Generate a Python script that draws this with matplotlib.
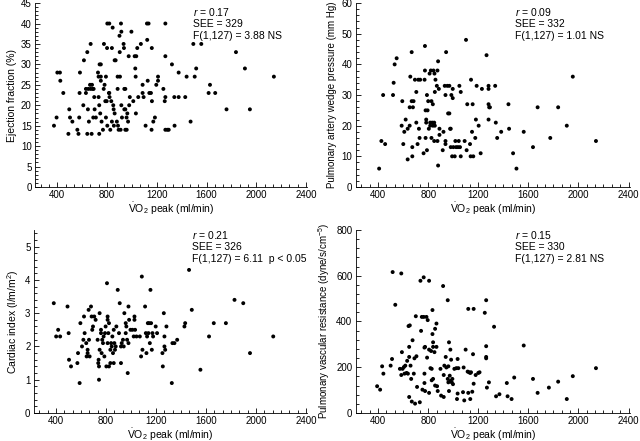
import matplotlib
matplotlib.use("Agg")
import matplotlib.pyplot as plt
from matplotlib.ticker import MultipleLocator

plt.rcParams.update({
    'font.family': 'Liberation Sans',
    'mathtext.fontset': 'custom',
    'mathtext.rm': 'Liberation Sans',
    'mathtext.it': 'Liberation Sans:italic',
    'mathtext.bf': 'Liberation Sans:bold',
})

# --- Data ---
# Ejection fraction vs VO2 peak
ef_vo2 = [373, 394, 400, 421, 424, 448, 489, 496, 502, 521,
          561, 570, 576, 579, 582, 609, 614, 630, 630, 641,
          641, 649, 646, 654, 663, 668, 676, 668, 679, 684,
          689, 692, 697, 700, 710, 732, 737, 737, 740, 745,
          750, 750, 750, 727, 732, 756, 767, 773, 775, 780,
          786, 791, 791, 797, 800, 802, 802, 815, 818, 818,
          820, 826, 834, 839, 839, 845, 850, 853, 855, 861,
          861, 869, 879, 885, 885, 888, 893, 900, 902, 904,
          909, 912, 915, 915, 920, 933, 936, 939, 939, 947,
          947, 947, 957, 958, 963, 969, 974, 978, 983, 996,
          1011, 1022, 1027, 1030, 1035, 1032, 1043, 1051, 1072, 1086,
          1086, 1094, 1110, 1121, 1123, 1127, 1134, 1140, 1153, 1160,
          1158, 1161, 1172, 1185, 1196, 1210, 1210, 1253, 1264, 1269,
          1269, 1269, 1269, 1285, 1296, 1322, 1343, 1341, 1376, 1376,
          1429, 1440, 1472, 1494, 1505, 1517, 1558, 1617, 1628, 1670,
          1761, 1837, 1909, 1949, 2142]
ef = [15, 17, 28, 28, 26, 23, 13, 19, 17, 16,
      14, 13, 17, 23, 28, 20, 31, 23, 24, 33,
      13, 24, 19, 16, 25, 24, 13, 35, 25, 24,
      17, 24, 22, 19, 17, 22, 13, 20, 30, 18,
      30, 27, 26, 28, 27, 16, 14, 24, 35, 25,
      21, 27, 17, 21, 34, 40, 15, 23, 40, 23,
      22, 14, 21, 16, 34, 39, 20, 19, 15, 18,
      31, 31, 16, 24, 27, 15, 14, 37, 33, 27,
      14, 40, 38, 20, 17, 35, 34, 19, 24, 14,
      19, 24, 17, 14, 18, 16, 32, 20, 22, 38,
      21, 32, 29, 27, 32, 18, 34, 22, 35, 25,
      23, 22, 15, 40, 36, 26, 40, 23, 23, 34,
      14, 21, 16, 17, 25, 27, 26, 24, 21, 22,
      32, 40, 14, 14, 14, 30, 15, 22, 22, 28,
      22, 27, 16, 35, 27, 29, 35, 23, 25, 23,
      19, 33, 29, 19, 27]

# Pulmonary artery wedge pressure vs VO2 peak
pawp_vo2 = [408, 426, 440, 456, 519, 524, 532, 548, 588, 593,
            601, 609, 620, 636, 636, 652, 652, 657, 668, 668,
            673, 673, 678, 683, 694, 705, 705, 715, 721, 726,
            731, 736, 763, 771, 774, 774, 779, 779, 784, 784,
            790, 790, 795, 800, 805, 811, 816, 816, 821, 826,
            826, 832, 837, 837, 842, 848, 850, 853, 848, 853,
            858, 869, 874, 874, 879, 879, 885, 890, 890, 916,
            922, 932, 938, 938, 938, 943, 953, 959, 969, 969,
            975, 980, 980, 985, 991, 996, 996, 1001, 1012, 1017,
            1023, 1038, 1044, 1049, 1054, 1060, 1060, 1091, 1102, 1107,
            1112, 1134, 1139, 1142, 1150, 1155, 1160, 1176, 1181, 1187,
            1203, 1219, 1229, 1266, 1282, 1282, 1282, 1282, 1287, 1293,
            1335, 1340, 1351, 1383, 1441, 1446, 1478, 1505, 1563, 1637,
            1674, 1775, 1838, 1907, 1955, 2140]
pawp = [6, 15, 30, 14, 30, 34, 40, 42, 20, 28,
        14, 18, 22, 19, 9, 20, 26, 36, 44, 28,
        10, 13, 26, 28, 35, 21, 31, 14, 35, 19,
        16, 35, 11, 35, 38, 46, 25, 16, 22, 21,
        12, 30, 25, 28, 19, 37, 21, 20, 38, 28,
        16, 21, 20, 27, 38, 21, 37, 20, 15, 31,
        35, 33, 38, 15, 41, 7, 32, 19, 17, 12,
        18, 33, 30, 15, 14, 44, 33, 24, 24, 33,
        19, 13, 19, 30, 10, 29, 32, 13, 10, 15,
        13, 13, 15, 33, 13, 10, 31, 15, 48, 12,
        27, 14, 10, 35, 18, 27, 10, 16, 22, 33,
        20, 11, 32, 43, 22, 27, 33, 32, 26, 26,
        33, 21, 16, 18, 27, 19, 11, 6, 18, 13,
        26, 16, 26, 20, 36, 15]

# Cardiac index vs VO2 peak
ci_vo2 = [381, 400, 416, 432, 491, 500, 503, 519, 570, 575,
          588, 594, 607, 618, 623, 628, 641, 644, 652, 652,
          660, 663, 668, 679, 684, 689, 695, 705, 716, 732,
          737, 740, 743, 748, 743, 748, 759, 759, 764, 769,
          775, 780, 786, 791, 796, 802, 807, 812, 812, 812,
          818, 823, 823, 834, 834, 840, 845, 850, 855, 861,
          861, 866, 871, 877, 882, 893, 903, 909, 919, 919,
          925, 935, 941, 946, 957, 957, 962, 968, 973, 979,
          979, 984, 995, 1011, 1021, 1027, 1027, 1032, 1043, 1070,
          1080, 1086, 1091, 1112, 1118, 1123, 1128, 1134, 1139, 1144,
          1150, 1155, 1160, 1166, 1171, 1176, 1197, 1208, 1251, 1254,
          1262, 1267, 1267, 1273, 1283, 1326, 1331, 1347, 1369, 1427,
          1433, 1464, 1486, 1555, 1624, 1662, 1759, 1828, 1898, 1952,
          2138]
ci = [3.3, 2.3, 2.5, 2.3, 3.2, 2.4, 1.6, 1.4, 1.5, 1.8,
      0.9, 2.7, 2.0, 2.2, 2.9, 2.4, 2.1, 1.7, 1.9, 1.8,
      3.1, 2.2, 1.7, 3.2, 2.9, 2.5, 2.6, 2.9, 2.8, 2.2,
      1.5, 1.6, 1.4, 3.0, 1.0, 1.9, 2.4, 2.5, 1.8, 2.2,
      2.1, 2.3, 1.7, 2.4, 2.6, 1.4, 3.9, 2.8, 2.9, 2.1,
      2.4, 2.7, 1.4, 1.5, 1.9, 2.1, 2.0, 2.3, 1.8, 1.5,
      2.5, 2.1, 1.9, 2.0, 2.6, 3.7, 2.4, 3.3, 2.0, 1.5,
      2.1, 2.2, 2.0, 3.0, 2.7, 2.4, 2.6, 2.2, 1.2, 2.1,
      3.2, 2.8, 2.5, 2.5, 2.3, 2.9, 2.8, 2.5, 2.3, 2.3,
      1.7, 4.1, 1.9, 3.2, 2.4, 1.8, 2.3, 2.7, 2.4, 2.7,
      2.1, 3.7, 2.7, 1.9, 2.4, 2.3, 2.6, 2.4, 1.8, 1.4,
      3.0, 2.3, 2.0, 1.9, 2.6, 0.9, 2.1, 2.1, 2.2, 2.6,
      2.7, 4.3, 3.1, 1.3, 2.3, 2.7, 2.7, 3.4, 3.3, 1.8,
      2.3]

# Pulmonary vascular resistance vs VO2 peak
pvr_vo2 = [392, 416, 432, 442, 500, 511, 516, 537, 574, 585,
           585, 590, 595, 606, 611, 617, 627, 632, 638, 643,
           648, 648, 648, 653, 659, 664, 669, 675, 685, 690,
           695, 701, 706, 711, 733, 738, 743, 749, 754, 764,
           764, 770, 770, 770, 775, 775, 786, 791, 796, 807,
           807, 807, 818, 823, 828, 828, 834, 834, 839, 839,
           839, 850, 855, 855, 866, 866, 871, 876, 898, 903,
           919, 924, 924, 929, 940, 945, 956, 956, 961, 961,
           966, 966, 972, 977, 977, 983, 988, 993, 998, 1009,
           1025, 1030, 1035, 1035, 1041, 1078, 1083, 1088, 1099, 1115,
           1120, 1120, 1126, 1136, 1136, 1142, 1152, 1158, 1163, 1163,
           1179, 1200, 1210, 1252, 1263, 1263, 1263, 1263, 1269, 1285,
           1326, 1342, 1369, 1428, 1434, 1466, 1487, 1563, 1637, 1674,
           1764, 1838, 1907, 1955, 2140]
pvr = [117, 102, 204, 172, 207, 236, 616, 473, 193, 610,
       166, 266, 193, 201, 172, 207, 175, 228, 172, 380,
       245, 70, 289, 383, 207, 149, 50, 318, 172, 239,
       41, 423, 248, 114, 47, 578, 359, 420, 102, 593,
       420, 286, 131, 172, 96, 289, 420, 242, 406, 578,
       277, 88, 196, 271, 143, 193, 450, 345, 289, 309,
       149, 266, 368, 120, 391, 289, 117, 96, 193, 76,
       555, 70, 166, 207, 245, 199, 493, 149, 134, 204,
       309, 96, 163, 277, 140, 233, 134, 149, 126, 193,
       196, 61, 85, 236, 196, 91, 199, 55, 277, 181,
       455, 88, 178, 175, 61, 178, 93, 257, 455, 128,
       166, 175, 178, 438, 493, 292, 239, 245, 111, 134,
       377, 73, 82, 131, 73, 61, 155, 295, 149, 88,
       111, 137, 61, 161, 196]

stats_ef = ['$r$ = 0.17', 'SEE = 329', 'F(1,127) = 3.88 NS']
stats_pawp = ['$r$ = 0.09', 'SEE = 332', 'F(1,127) = 1.01 NS']
stats_ci = ['$r$ = 0.21', 'SEE = 326', 'F(1,127) = 6.11  p < 0.05']
stats_pvr = ['$r$ = 0.15', 'SEE = 330', 'F(1,127) = 2.81 NS']

x_label = r'$\dot{\mathrm{V}}\mathrm{O}_2$ peak (ml/min)'

# --- Plotting ---
fig = plt.figure(figsize=(6.4, 4.41), dpi=100)


def scatter_panel(rect, xs, ys, ylabel, ylabel_size, ylim, ymajor, yminor, stats, text_y):
    ax = fig.add_axes(rect)
    ax.scatter(xs, ys, s=8, color='black', edgecolors='none', zorder=3)
    ax.set_xlim(222, 2410)
    ax.set_ylim(*ylim)
    ax.xaxis.set_major_locator(MultipleLocator(400))
    ax.xaxis.set_minor_locator(MultipleLocator(400 / 6))
    ax.yaxis.set_major_locator(MultipleLocator(ymajor))
    ax.yaxis.set_minor_locator(MultipleLocator(yminor))
    ax.spines['top'].set_visible(False)
    ax.spines['right'].set_visible(False)
    for sp in ('left', 'bottom'):
        ax.spines[sp].set_linewidth(0.6)
    ax.tick_params(which='both', direction='in', width=0.6, labelsize=7, pad=2.5)
    ax.tick_params(which='major', length=3.5)
    ax.tick_params(which='minor', length=2)
    ax.set_xlabel(x_label, fontsize=7.5, labelpad=0)
    ax.set_ylabel(ylabel, fontsize=ylabel_size, labelpad=3)
    for txt, ty in zip(stats, text_y):
        ax.text(0.58, ty, txt, transform=ax.transAxes, fontsize=7.5,
                ha='left', va='center')
    return ax


scatter_panel([0.055, 0.576, 0.425, 0.417], ef_vo2, ef,
              'Ejection fraction (%)', 7.5, (0, 45), 5, 1,
              stats_ef, [0.949, 0.886, 0.821])
scatter_panel([0.556, 0.576, 0.428, 0.417], pawp_vo2, pawp,
              'Pulmonary artery wedge pressure (mm Hg)', 7, (0, 60), 10, 2,
              stats_pawp, [0.949, 0.886, 0.821])
scatter_panel([0.053, 0.0635, 0.427, 0.415], ci_vo2, ci,
              'Cardiac index (l/m/m$^2$)', 7.5, (0, 5.5), 1, 0.2,
              stats_ci, [0.973, 0.908, 0.842])
scatter_panel([0.556, 0.0635, 0.428, 0.415], pvr_vo2, pvr,
              'Pulmonary vascular resistance (dyne/s/cm$^{-5}$)', 7, (0, 800), 200, 40,
              stats_pvr, [0.973, 0.905, 0.84])

fig.savefig('out.png', dpi=100)
